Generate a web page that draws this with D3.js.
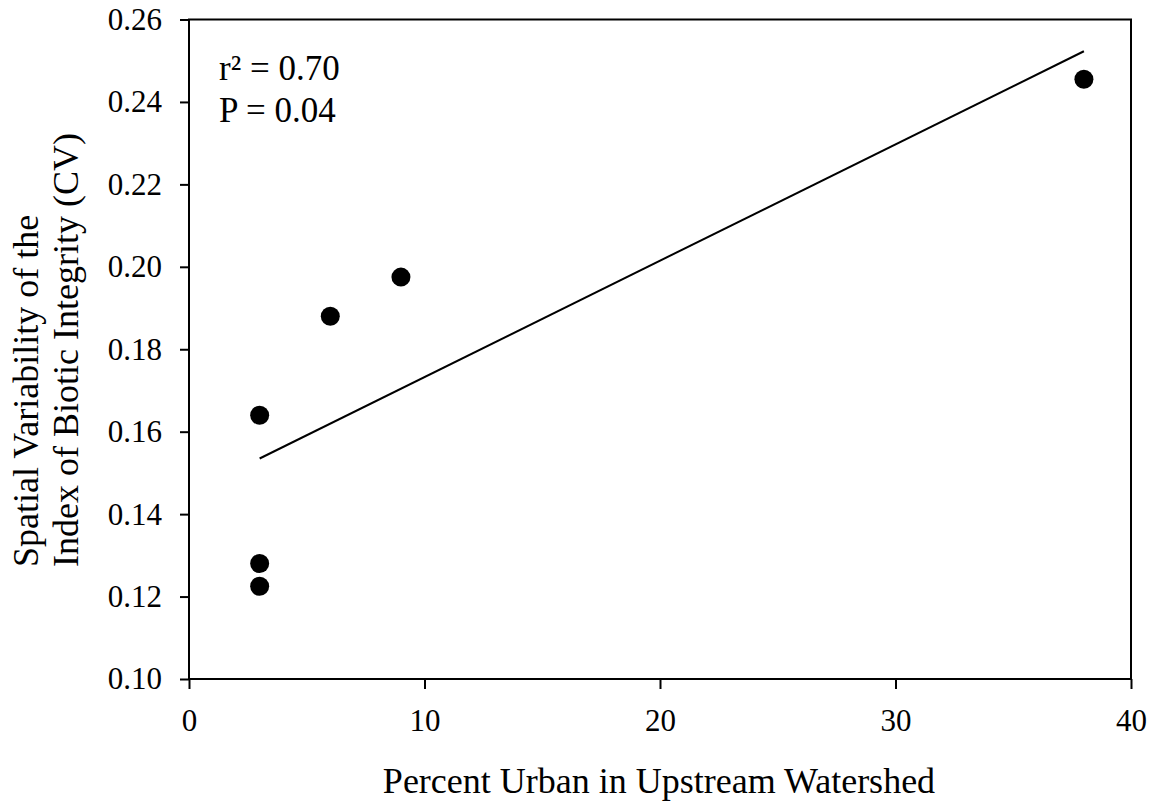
<!DOCTYPE html>
<html>
<head>
<meta charset="utf-8">
<script src="https://cdn.jsdelivr.net/npm/d3@7"></script>
<style>
  body { margin: 0; background: #fff; }
  text { font-family: "Liberation Serif", "Times New Roman", serif; fill: #000; }
</style>
</head>
<body>
<svg id="chart"></svg>
<script>
// observed points: percent urban vs CV of IBI
var urbanPct = [3, 3, 3, 6, 9, 38];
var ibiCV = [0.164, 0.128, 0.1225, 0.188, 0.1975, 0.2455];

// fitted regression line endpoints
var fitX = [3, 38];
var fitY = [0.1535, 0.2523];

var xTicks = [0, 10, 20, 30, 40];
var yTicks = [0.10, 0.12, 0.14, 0.16, 0.18, 0.20, 0.22, 0.24, 0.26];
var statLines = ["r\u00b2 = 0.70", "P = 0.04"];

var width = 1160, height = 803;
var margin = {left: 189, right: 29, top: 19.5, bottom: 124};

var svg = d3.select("#chart")
    .attr("width", width)
    .attr("height", height);

var x = d3.scaleLinear().domain([0, 40]).range([margin.left, width - margin.right]);
var y = d3.scaleLinear().domain([0.10, 0.26]).range([height - margin.bottom, margin.top]);

// frame
svg.append("rect")
    .attr("x", x(0)).attr("y", y(0.26))
    .attr("width", x(40) - x(0)).attr("height", y(0.10) - y(0.26))
    .attr("fill", "none").attr("stroke", "#000").attr("stroke-width", 2);

var xAxis = svg.append("g")
    .attr("transform", "translate(0," + y(0.10) + ")")
    .call(d3.axisBottom(x).tickValues(xTicks).tickSize(10).tickPadding(20).tickFormat(d3.format("d")));

var yAxis = svg.append("g")
    .attr("transform", "translate(" + x(0) + ",0)")
    .call(d3.axisLeft(y).tickValues(yTicks).tickSize(9).tickPadding(18).tickFormat(d3.format(".2f")));

[xAxis, yAxis].forEach(function (a) {
    a.select(".domain").remove();
    a.selectAll(".tick line").attr("stroke", "#000").attr("stroke-width", 2);
    a.selectAll(".tick text").style("font-size", "31px").attr("fill", "#000");
});

// regression line
var fit = fitX.map(function (d, i) { return [d, fitY[i]]; });
svg.append("path")
    .datum(fit)
    .attr("fill", "none")
    .attr("stroke", "#000")
    .attr("stroke-width", 2)
    .attr("d", d3.line().x(function (d) { return x(d[0]); }).y(function (d) { return y(d[1]); }));

// points
svg.selectAll(".dot")
    .data(urbanPct.map(function (d, i) { return [d, ibiCV[i]]; }))
    .enter().append("circle")
    .attr("class", "dot")
    .attr("cx", function (d) { return x(d[0]); })
    .attr("cy", function (d) { return y(d[1]); })
    .attr("r", 9.5)
    .attr("fill", "#000");

// stats
svg.selectAll(".stat")
    .data(statLines)
    .enter().append("text")
    .attr("class", "stat")
    .attr("x", 219)
    .attr("y", function (d, i) { return 80 + i * 42; })
    .style("font-size", "35px")
    .text(function (d) { return d; });

// axis titles
svg.append("text")
    .attr("x", 659).attr("y", 793)
    .attr("text-anchor", "middle")
    .style("font-size", "36px")
    .text("Percent Urban in Upstream Watershed");

var yt = svg.append("text")
    .attr("transform", "translate(38,567) rotate(-90)")
    .attr("text-anchor", "start")
    .style("font-size", "36px");
yt.append("tspan").attr("x", 0).attr("dy", 0).text("Spatial Variability of the");
yt.append("tspan").attr("x", 0).attr("dy", 40).text("Index of Biotic Integrity (CV)");
</script>
</body>
</html>
